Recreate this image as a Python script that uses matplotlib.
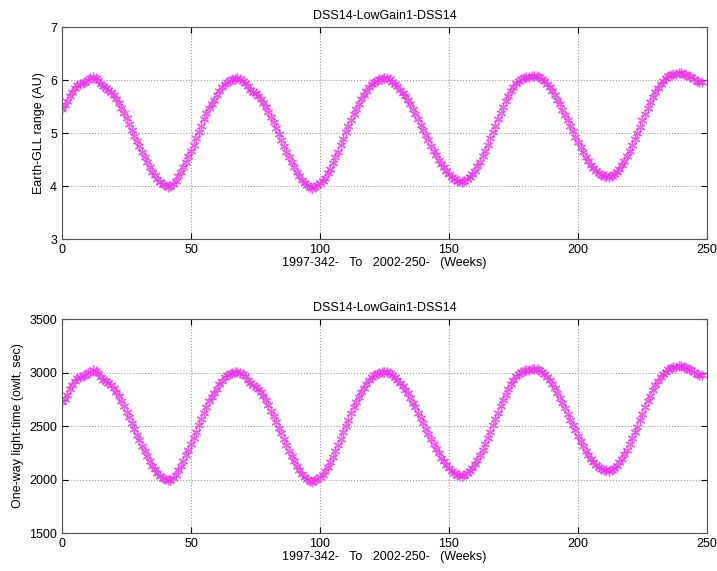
import numpy as np
import matplotlib.pyplot as plt

# Earth-Galileo range, one reading per week (AU)
weeks = np.arange(249)
range_au = np.array([
    5.46, 5.52, 5.60, 5.70, 5.78, 5.85, 5.90, 5.93, 5.95, 5.97,
    6.00, 6.03, 6.05, 6.04, 6.00, 5.93, 5.88, 5.85, 5.82, 5.78,
    5.72, 5.65, 5.57, 5.48, 5.38, 5.28, 5.17, 5.06, 4.95, 4.85,
    4.75, 4.64, 4.54, 4.45, 4.36, 4.27, 4.20, 4.13, 4.08, 4.04,
    4.01, 3.99, 4.00, 4.04, 4.10, 4.18, 4.27, 4.36, 4.46, 4.56,
    4.67, 4.78, 4.90, 5.02, 5.14, 5.26, 5.37, 5.47, 5.55, 5.63,
    5.71, 5.79, 5.86, 5.92, 5.96, 5.99, 6.01, 6.02, 6.03, 6.01,
    5.98, 5.94, 5.88, 5.82, 5.78, 5.75, 5.70, 5.64, 5.57, 5.49,
    5.40, 5.30, 5.20, 5.09, 4.98, 4.87, 4.76, 4.65, 4.55, 4.45,
    4.35, 4.26, 4.18, 4.11, 4.05, 4.01, 3.98, 3.97, 3.99, 4.02,
    4.06, 4.10, 4.16, 4.24, 4.33, 4.43, 4.54, 4.65, 4.77, 4.89,
    5.01, 5.13, 5.25, 5.36, 5.46, 5.55, 5.64, 5.72, 5.80, 5.87,
    5.92, 5.96, 5.99, 6.01, 6.02, 6.03, 6.03, 6.01, 5.97, 5.93,
    5.88, 5.82, 5.76, 5.69, 5.62, 5.54, 5.45, 5.36, 5.26, 5.16,
    5.06, 4.96, 4.86, 4.76, 4.67, 4.58, 4.50, 4.42, 4.35, 4.28,
    4.22, 4.17, 4.13, 4.10, 4.09, 4.08, 4.10, 4.13, 4.17, 4.22,
    4.29, 4.37, 4.46, 4.56, 4.67, 4.78, 4.90, 5.02, 5.14, 5.26,
    5.38, 5.49, 5.60, 5.70, 5.79, 5.87, 5.94, 5.99, 6.02, 6.04,
    6.05, 6.06, 6.07, 6.08, 6.07, 6.05, 6.02, 5.98, 5.93, 5.87,
    5.80, 5.72, 5.63, 5.54, 5.44, 5.34, 5.24, 5.13, 5.03, 4.93,
    4.83, 4.73, 4.64, 4.55, 4.47, 4.40, 4.34, 4.28, 4.24, 4.21,
    4.19, 4.18, 4.17, 4.19, 4.23, 4.27, 4.33, 4.40, 4.48, 4.57,
    4.67, 4.78, 4.89, 5.00, 5.12, 5.24, 5.36, 5.47, 5.58, 5.68,
    5.77, 5.85, 5.92, 5.98, 6.03, 6.07, 6.09, 6.11, 6.12, 6.13,
    6.13, 6.12, 6.10, 6.08, 6.05, 6.02, 5.99, 5.96, 5.97,
])

# one-way light time: 1 AU = 499.005 light-seconds
AU_LIGHT_SEC = 499.005
owlt_sec = range_au * AU_LIGHT_SEC

title = 'DSS14-LowGain1-DSS14'
xlabel = '1997-342-   To   2002-250-   (Weeks)'

plt.rcParams['font.family'] = ['Liberation Sans', 'DejaVu Sans']
plt.rcParams['font.size'] = 9

fig = plt.figure(figsize=(7.17, 5.71), dpi=100)
ax1 = fig.add_axes([0.0865, 0.5814, 0.8995, 0.3713])
ax2 = fig.add_axes([0.0865, 0.0665, 0.8995, 0.3748])

panels = [
    (ax1, range_au, 'Earth-GLL range (AU)', (3, 7), np.arange(3, 8, 1)),
    (ax2, owlt_sec, 'One-way light-time (owlt, sec)', (1500, 3500), np.arange(1500, 3501, 500)),
]

for ax, vals, ylab, ylim, yticks in panels:
    # MATLAB-style asterisk markers
    ax.plot(weeks, vals, linestyle='none', marker=(6, 2, 0), color='#e838e8',
            markersize=7, markeredgewidth=1.0, alpha=0.8)
    ax.set_xlim(0, 250)
    ax.set_ylim(*ylim)
    ax.set_xticks(np.arange(0, 251, 50))
    ax.set_yticks(yticks)
    ax.grid(True, linestyle=':', color='#999999', linewidth=0.8)
    ax.tick_params(direction='in', top=True, right=True, length=4, labelsize=9)
    for s in ax.spines.values():
        s.set_color('#555555')
    ax.set_title(title, fontsize=9, pad=6)
    ax.set_xlabel(xlabel, fontsize=9, labelpad=1)
    ax.set_ylabel(ylab, fontsize=9, labelpad=4)

fig.savefig('out.png', dpi=100)
